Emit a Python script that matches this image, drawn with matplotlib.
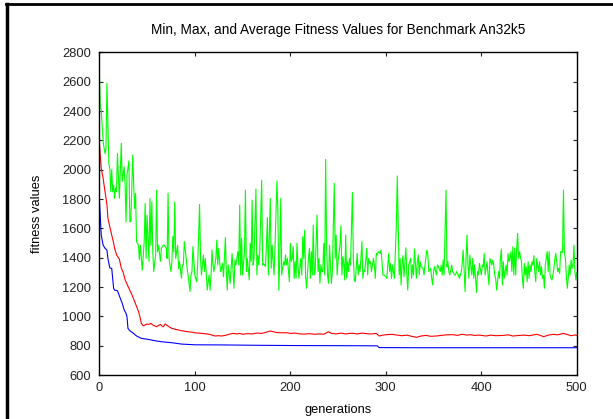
import matplotlib
matplotlib.use("Agg")
import matplotlib.pyplot as plt
from matplotlib.lines import Line2D

plt.rcParams['font.family'] = ['Liberation Sans', 'DejaVu Sans']

# max fitness (green)
max_gen = [0, 1, 2, 4, 6, 7, 8, 10, 11, 12, 13, 14, 15, 16, 17, 18, 19, 21, 22, 23, 24, 26, 27, 28, 29,
           31, 32, 33, 35, 36, 37, 38, 39, 41, 42, 43, 44, 45, 47, 48, 49, 50, 52, 53, 54, 55, 56, 57,
           59, 60, 61, 62, 64, 65, 67, 68, 70, 71, 72, 73, 75, 76, 77, 78, 79, 80, 82, 83, 84, 86, 87,
           88, 89, 91, 92, 93, 95, 96, 97, 98, 100,
           102, 103, 105, 106, 107, 109, 110, 111, 112, 113, 115, 116, 117, 118, 119, 120, 122, 123,
           124, 125, 126, 127, 129, 130, 131, 132, 133, 134, 135, 136, 137, 139, 140, 141, 142, 143,
           145, 146, 147, 148, 149, 150, 152, 153, 154, 155, 157, 158, 159, 160, 161, 162, 164, 165,
           166, 167, 168, 170, 171, 172, 174, 175, 176, 177, 179, 180, 181, 182, 183, 184, 186, 187,
           188, 189, 190, 191, 193, 194, 195, 196, 197, 199, 200, 201, 202, 203, 204,
           205, 206, 207, 208, 209, 211, 212, 213, 214, 215, 216, 217, 219, 220, 221, 222, 223, 224,
           225, 226, 228, 229, 230, 231, 232, 233, 234, 235, 236, 237, 238, 239, 240, 241, 242, 243,
           244, 246, 247, 248, 249, 250, 252, 253, 254, 255, 256, 257, 258, 259, 260, 261, 262, 263,
           265, 266, 267, 268, 270, 271, 272, 273, 275, 276, 277, 278, 280, 281, 282, 283, 284, 285,
           287, 288, 289, 290, 291, 292, 294, 295, 296, 297, 298, 300, 301, 303, 304, 305, 306, 307,
           308, 309,
           311, 312, 314, 315, 316, 317, 318, 319, 321, 322, 323, 324, 326, 327, 328, 329, 330, 332,
           333, 334, 335, 336, 337, 339, 340, 341, 343, 344, 345, 347, 348, 349, 350, 351, 353, 354,
           355, 357, 358, 359, 360, 361, 363, 364, 365, 366, 367, 369, 370, 372, 373, 374, 376, 377,
           379, 380, 381, 383, 384, 385, 386, 387, 388, 390, 391, 392, 393, 395, 396, 397, 398, 400,
           401, 402, 403, 404, 406, 407, 408, 409, 411, 412, 413, 414,
           415, 416, 418, 419, 420, 421, 422, 423, 424, 425, 426, 427, 428, 429, 430, 431, 432, 433,
           434, 435, 436, 437, 438, 439, 440, 442, 443, 444, 445, 446, 447, 448, 449, 450, 451, 452,
           453, 454, 455, 456, 457, 458, 460, 461, 462, 463, 464, 465, 466, 467, 468, 469, 470, 471,
           472, 473, 474, 475, 476, 477, 478, 479, 480, 481, 482, 483, 485, 486, 487, 488, 489, 490,
           491, 492, 493, 494, 495, 496, 497, 498, 499, 500]
max_val = [2690, 2430, 2410, 2190, 2110, 2150, 2590, 2040, 2010, 1850, 2000, 1850, 1895, 1805, 1875,
           1850, 2110, 1805, 1985, 2180, 1920, 2020, 1895, 1645, 1965, 2060, 1645, 1645, 2100, 1895,
           1735, 1840, 1510, 1485, 1385, 1485, 1395, 1315, 1510, 1770, 1395, 1690, 1375, 1805, 1485,
           1780, 1440, 1305, 1420, 1860, 1440, 1485, 1375, 1465, 1485, 1485, 1465, 1395, 1840, 1395,
           1305, 1375, 1545, 1440, 1780, 1395, 1485, 1325, 1375, 1260, 1350, 1350, 1510, 1395, 1325,
           1280, 1170, 1280, 1305, 1475, 1280,
           1236, 1350, 1763, 1395, 1282, 1418, 1305, 1395, 1282, 1179, 1282, 1179, 1282, 1452, 1350,
           1305, 1395, 1520, 1350, 1464, 1373, 1305, 1361, 1270, 1395, 1538, 1305, 1179, 1350, 1282,
           1225, 1429, 1305, 1191, 1384, 1350, 1441, 1350, 1759, 1282, 1532, 1282, 1441, 1861, 1305,
           1395, 1248, 1498, 1373, 1793, 1350, 1395, 1868, 1282, 1418, 1350, 1441, 1929, 1350, 1361,
           1339, 1486, 1673, 1282, 1804, 1327, 1486, 1373, 1282, 1486, 1923, 1713, 1179, 1395, 1804,
           1282, 1373, 1350, 1418, 1350, 1395, 1236, 1498, 1373, 1395, 1475, 1259,
           1373, 1259, 1498, 1350, 1259, 1395, 1282, 1543, 1395, 1588, 1282, 1191, 1395, 1464, 1259,
           1441, 1282, 1622, 1282, 1305, 1691, 1305, 1395, 1225, 1350, 1305, 1305, 1498, 1282, 2070,
           1486, 1282, 1225, 1486, 1350, 1225, 1305, 1907, 1395, 1554, 1282, 1373, 1486, 1618, 1282,
           1407, 1361, 1248, 1554, 1259, 1373, 1305, 1395, 1350, 1845, 1395, 1248, 1236, 1429, 1282,
           1350, 1305, 1509, 1259, 1316, 1305, 1464, 1282, 1395, 1361, 1373, 1305, 1395, 1350, 1259,
           1429, 1418, 1441, 1429, 1452, 1373, 1282, 1282, 1270, 1259, 1429, 1305, 1361, 1259, 1350,
           1305, 1259,
           1622, 1957, 1282, 1395, 1214, 1361, 1414, 1270, 1468, 1282, 1179, 1350, 1395, 1259, 1350,
           1282, 1459, 1259, 1373, 1418, 1282, 1373, 1339, 1327, 1282, 1350, 1452, 1418, 1305, 1327,
           1259, 1214, 1305, 1339, 1282, 1350, 1339, 1305, 1350, 1282, 1384, 1282, 1861, 1339, 1373,
           1305, 1282, 1350, 1305, 1282, 1282, 1305, 1282, 1259, 1305, 1361, 1452, 1168, 1395, 1554,
           1350, 1259, 1418, 1282, 1395, 1259, 1350, 1163, 1305, 1282, 1361, 1282, 1350, 1339, 1429,
           1282, 1373, 1282, 1214, 1395, 1350, 1384, 1350, 1282,
           1259, 1179, 1305, 1259, 1395, 1459, 1214, 1373, 1259, 1305, 1350, 1282, 1429, 1373, 1395,
           1441, 1305, 1475, 1282, 1464, 1282, 1464, 1566, 1395, 1441, 1373, 1259, 1191, 1361, 1282,
           1339, 1236, 1373, 1259, 1350, 1305, 1373, 1350, 1414, 1305, 1236, 1395, 1305, 1373, 1282,
           1339, 1259, 1282, 1191, 1350, 1395, 1441, 1305, 1441, 1282, 1259, 1248, 1282, 1327, 1395,
           1429, 1373, 1305, 1327, 1293, 1441, 1436, 1861, 1429, 1395, 1282, 1191, 1259, 1350, 1282,
           1384, 1327, 1350, 1486, 1305, 1248, 1300]

# average fitness (red)
avg_gen = [0, 2, 4, 6, 8, 9, 11, 13, 15, 16, 18, 21, 23, 25, 27, 30, 34, 37, 41, 43, 44, 46, 48, 50,
           52, 54, 56, 58, 60, 62, 64, 66, 67, 69, 71, 72, 74, 76, 78, 80, 83, 86, 90, 93, 97, 100,
           104, 107, 110, 114, 117, 121, 125, 128, 132, 135, 140, 144, 147, 150, 155, 160, 165, 170,
           175, 179, 182, 185, 190, 196, 200, 205, 210, 215, 220, 225, 230, 235, 240, 243, 248, 253,
           258, 262, 266, 270, 275, 280, 285, 290, 293, 297, 302, 307, 312, 317, 322, 327, 332, 337,
           342, 347, 353, 358, 364, 370, 375, 380, 385, 388, 393, 398, 405, 410, 415, 423, 428, 433,
           440, 445, 450, 455, 458, 462, 465, 470, 475, 480, 486, 490, 494, 498, 500]
avg_val = [2190, 2010, 1940, 1850, 1760, 1670, 1610, 1555, 1500, 1465, 1420, 1390, 1330, 1300, 1250,
           1205, 1150, 1100, 1035, 985, 952, 936, 941, 948, 945, 952, 941, 935, 929, 938, 945, 932,
           929, 948, 938, 934, 925, 918, 915, 911, 907, 902, 898, 895, 892, 888, 886, 884, 882, 879,
           874, 866, 868, 866, 870, 876, 884, 880, 884, 878, 882, 880, 886, 884, 892, 900, 896, 890,
           888, 888, 884, 886, 880, 879, 882, 878, 880, 878, 895, 884, 880, 886, 880, 884, 884, 880,
           886, 882, 880, 884, 866, 872, 876, 877, 872, 868, 872, 864, 857, 866, 870, 864, 866, 870,
           874, 875, 870, 878, 872, 875, 870, 872, 866, 872, 868, 870, 874, 866, 870, 872, 868, 874,
           877, 870, 861, 872, 877, 874, 884, 876, 868, 873, 870]

# min fitness (blue)
min_gen = [0, 2, 4, 6, 8, 9, 11, 13, 14, 15, 16, 19, 21, 23, 24, 26, 28, 29, 30, 32, 35, 39, 44, 51,
           58, 65, 76, 86, 100, 130, 160, 200, 250, 291, 293, 330, 500]
min_val = [1810, 1555, 1486, 1464, 1452, 1395, 1330, 1327, 1259, 1191, 1179, 1175, 1140, 1105, 1089,
           1045, 1020, 997, 918, 902, 888, 866, 850, 843, 834, 827, 820, 811, 806, 805, 803, 801, 800,
           799, 787, 786, 786]

x_ticks = [0, 100, 200, 300, 400, 500]
y_ticks = list(range(600, 2801, 200))

fig = plt.figure(figsize=(6.13, 4.19), dpi=100)
ax = fig.add_axes([0.162, 0.105, 0.779, 0.770])

ax.plot(max_gen, max_val, color='#00ff00', lw=0.8)
ax.plot(avg_gen, avg_val, color='#ff0000', lw=0.8)
ax.plot(min_gen, min_val, color='#0000ff', lw=0.8)

ax.set_xlim(0, 500)
ax.set_ylim(600, 2800)
ax.set_xticks(x_ticks)
ax.set_yticks(y_ticks)
ax.tick_params(direction='in', length=3, width=0.8, top=True, right=True,
               labelsize=9.3, colors='#222222')
ax.tick_params(axis='y', pad=6)
ax.tick_params(axis='x', pad=5)
for s in ax.spines.values():
    s.set_linewidth(1.0)

ax.set_title('Min, Max, and Average Fitness Values for Benchmark An32k5', fontsize=9.8, pad=13)
ax.set_xlabel('generations', fontsize=9.3, labelpad=7)
ax.set_ylabel('fitness values', fontsize=9.3, labelpad=14)

# outer frame of the original figure (top and left edges visible)
fig.add_artist(Line2D([0.009, 1.0], [0.990, 0.990], color='black', lw=2.0, transform=fig.transFigure))
fig.add_artist(Line2D([0.011, 0.011], [0.0, 0.990], color='black', lw=2.5, transform=fig.transFigure))

fig.savefig('out.png', dpi=100)
